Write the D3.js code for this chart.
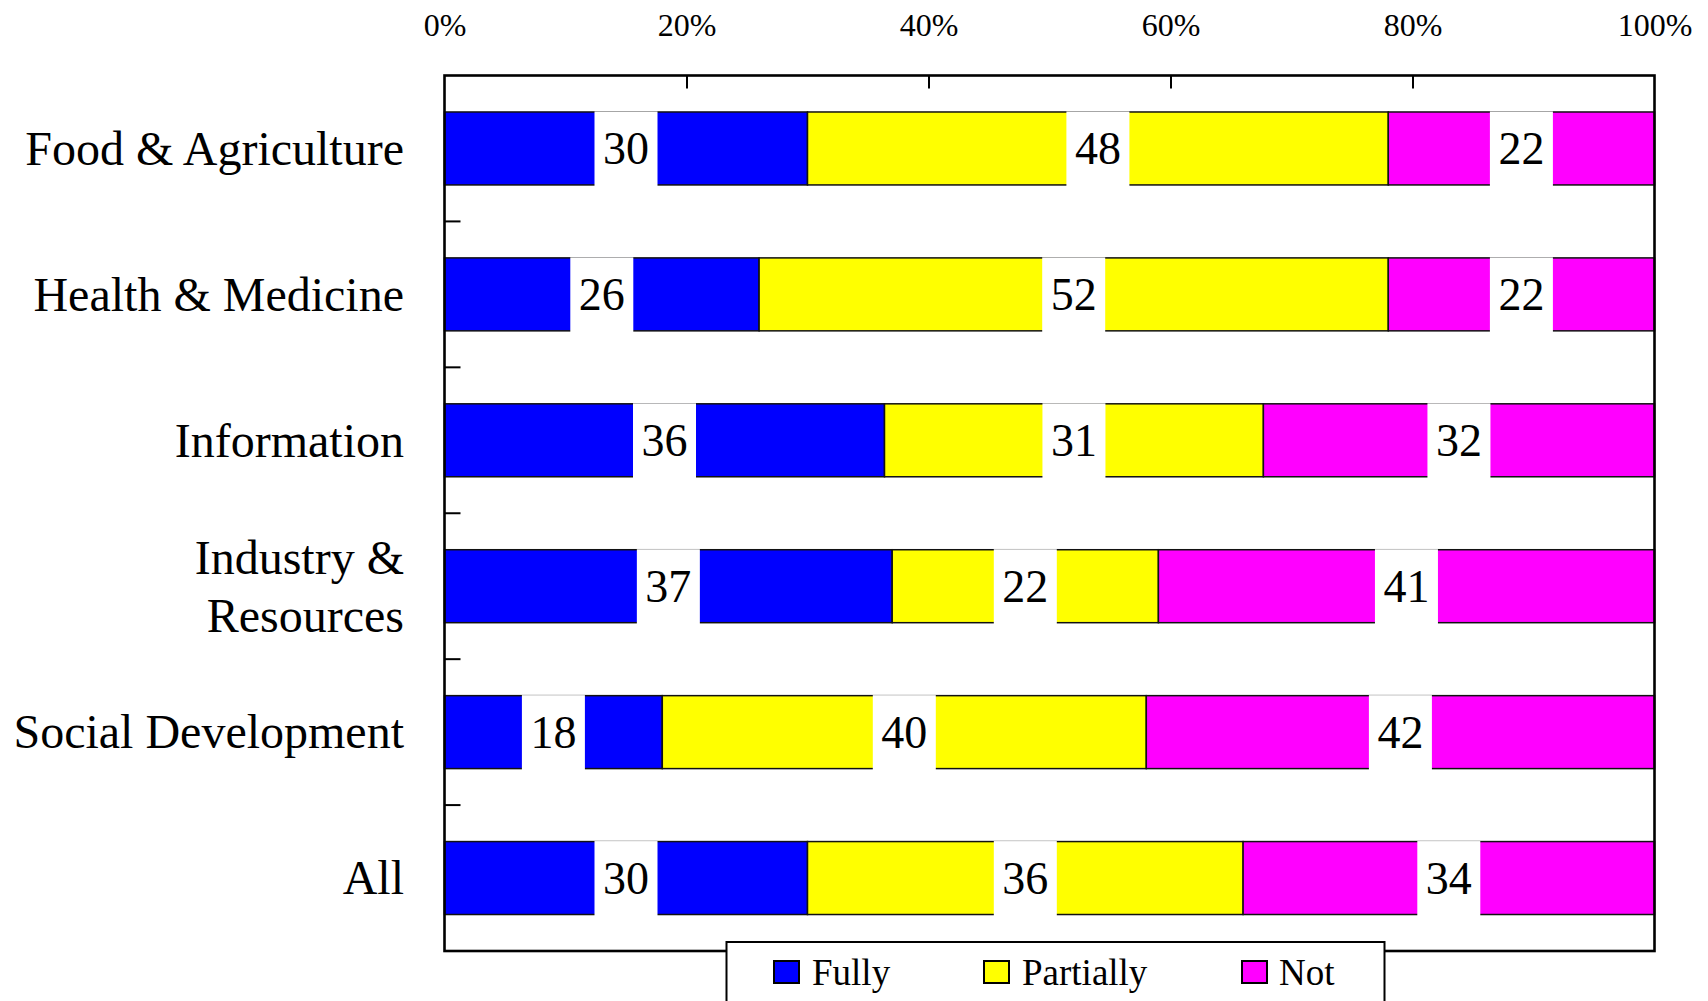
<!DOCTYPE html>
<html>
<head>
<meta charset="utf-8">
<script src="https://cdn.jsdelivr.net/npm/d3@7"></script>
<style>
  html, body { margin: 0; padding: 0; background: #fff; }
  svg { display: block; }
  text { font-family: "Liberation Serif", "Times New Roman", serif; fill: #000; }
</style>
</head>
<body>
<svg id="chart" width="1708" height="1001"></svg>
<script>
const categories = ["Food & Agriculture", "Health & Medicine", "Information", "Industry &\nResources", "Social Development", "All"];
const seriesNames = ["Fully", "Partially", "Not"];
const fully = [30, 26, 36, 37, 18, 30];
const partially = [48, 52, 31, 22, 40, 36];
const notAtAll = [22, 22, 32, 41, 42, 34];
const tickValues = [0, 0.2, 0.4, 0.6, 0.8, 1.0];
const colors = ["#0000ff", "#ffff00", "#ff00ff"];

(function () {
const rows = categories.map((c, i) => ({ cat: c, Fully: fully[i], Partially: partially[i], Not: notAtAll[i] }));

const svg = d3.select("#chart");
const pLeft = 444.5, pRight = 1654.5, pTop = 75.5, pBottom = 951;

const x = d3.scaleLinear().domain([0, 1]).range([pLeft, pRight]);
const y = d3.scaleBand().domain(categories).range([pTop, pBottom]).paddingInner(0.5).paddingOuter(0.25);
const color = d3.scaleOrdinal().domain(seriesNames).range(colors);

const stack = d3.stack().keys(seriesNames).offset(d3.stackOffsetExpand);
const layers = stack(rows);

svg.append("rect").attr("x", pLeft).attr("y", pTop).attr("width", pRight - pLeft).attr("height", pBottom - pTop)
  .attr("fill", "#fff");

// bars
const g = svg.append("g");
layers.forEach(layer => {
  g.selectAll(null).data(layer).enter().append("rect")
    .attr("x", d => x(d[0]))
    .attr("y", d => y(d.data.cat))
    .attr("width", d => x(d[1]) - x(d[0]))
    .attr("height", y.bandwidth())
    .attr("fill", color(layer.key))
    .attr("stroke", "#111")
    .attr("stroke-width", 1.5);
});

// value labels with white boxes
const boxW = 63;
layers.forEach(layer => {
  const lg = svg.append("g");
  const sel = lg.selectAll(null).data(layer).enter();
  sel.append("rect")
    .attr("x", d => (x(d[0]) + x(d[1])) / 2 - boxW / 2)
    .attr("y", d => y(d.data.cat) - 0.5)
    .attr("width", boxW)
    .attr("height", y.bandwidth() + 2)
    .attr("fill", "#fff");
  sel.append("text")
    .attr("x", d => (x(d[0]) + x(d[1])) / 2)
    .attr("y", d => y(d.data.cat) + y.bandwidth() / 2)
    .attr("dy", "0.34em")
    .attr("text-anchor", "middle")
    .attr("font-size", 46)
    .text(d => d.data[layer.key]);
});

// plot border
svg.append("rect").attr("x", pLeft).attr("y", pTop).attr("width", pRight - pLeft).attr("height", pBottom - pTop)
  .attr("fill", "none").attr("stroke", "#000").attr("stroke-width", 2.6);

// top axis
const axis = d3.axisTop(x).tickValues(tickValues).tickFormat(d3.format(".0%"))
  .tickSizeInner(-13).tickSizeOuter(0).tickPadding(40);
const ax = svg.append("g").attr("transform", `translate(0,${pTop})`).call(axis);
ax.select(".domain").remove();
ax.selectAll(".tick line").attr("stroke", "#000").attr("stroke-width", 2)
  .filter(d => d === 0 || d === 1).remove();
ax.selectAll(".tick text").attr("font-size", 32).attr("font-family", '"Liberation Serif", "Times New Roman", serif').attr("fill", "#000");

// left separator ticks (band boundaries)
const step = y.step();
const seps = categories.slice(1).map(c => y(c) - (step - y.bandwidth()) / 2);
svg.selectAll(null).data(seps).enter().append("line")
  .attr("x1", pLeft).attr("x2", pLeft + 16)
  .attr("y1", d => d).attr("y2", d => d)
  .attr("stroke", "#000").attr("stroke-width", 2);

// category labels
categories.forEach(c => {
  const lines = c.split("\n");
  const cy = y(c) + y.bandwidth() / 2;
  const lh = 58;
  const t = svg.append("text").attr("text-anchor", "end").attr("font-size", 48);
  lines.forEach((ln, i) => {
    t.append("tspan").attr("x", 404)
      .attr("y", cy + (i - (lines.length - 1) / 2) * lh)
      .attr("dy", "0.34em").text(ln);
  });
});

// legend
const lgX = 726.5, lgY = 942;
svg.append("rect").attr("x", lgX).attr("y", lgY).attr("width", 1384.5 - lgX).attr("height", 80)
  .attr("fill", "#fff").attr("stroke", "#000").attr("stroke-width", 2);
const legendPos = [{ sx: 774, tx: 812 }, { sx: 984, tx: 1022 }, { sx: 1242, tx: 1279 }];
seriesNames.forEach((s, i) => {
  svg.append("rect").attr("x", legendPos[i].sx).attr("y", 961).attr("width", 25).attr("height", 22)
    .attr("fill", color(s)).attr("stroke", "#000").attr("stroke-width", 2);
  svg.append("text").attr("x", legendPos[i].tx).attr("y", 985).attr("font-size", 37).text(s);
});
})();
</script>
</body>
</html>
